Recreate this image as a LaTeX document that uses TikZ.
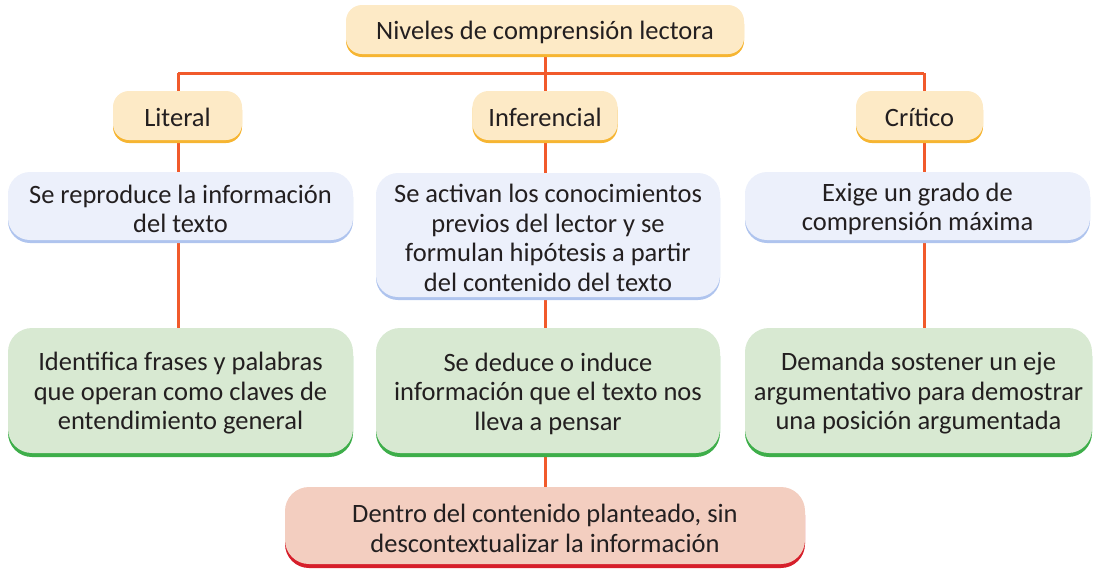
\documentclass[tikz,border=0pt]{standalone}
\usepackage{fontspec}
\setmainfont{Carlito}
\usetikzlibrary{shadows,backgrounds}
\definecolor{lineC}{HTML}{F15A2B}
\definecolor{txt}{HTML}{231F20}
\definecolor{topF}{HTML}{FDEAC6}
\definecolor{topS}{HTML}{F6B532}
\definecolor{bluF}{HTML}{ECF0FB}
\definecolor{bluS}{HTML}{AFC4EE}
\definecolor{grnF}{HTML}{D8E9D2}
\definecolor{grnS}{HTML}{3EAE4A}
\definecolor{redF}{HTML}{F3CEC0}
\definecolor{redS}{HTML}{D61F2B}
\tikzset{
  base/.style={align=center, text=txt, font=\fontsize{26.5}{29.5}\selectfont, inner sep=0pt},
  lbl/.style={base, rounded corners=16pt, fill=topF, general shadow={fill=topS, shadow yshift=-3pt}},
  blu/.style={base, rounded corners=22pt, fill=bluF, general shadow={fill=bluS, shadow yshift=-3pt}},
  grn/.style={base, rounded corners=24pt, fill=grnF, general shadow={fill=grnS, shadow yshift=-4pt}},
  rdb/.style={base, rounded corners=24pt, fill=redF, general shadow={fill=redS, shadow yshift=-4pt}},
  conn/.style={draw=lineC, line width=3pt},
  tx/.style={base}
}
\begin{document}
\begin{tikzpicture}[x=1pt,y=-1pt]
\useasboundingbox (0,0) rectangle (1094,571);
\node[lbl, minimum width=398pt, minimum height=49pt] (top) at (545,29.5) {};
\node[lbl, minimum width=129pt, minimum height=49pt] (lit) at (177.5,115.5) {};
\node[lbl, minimum width=145pt, minimum height=49pt] (inf) at (545,115.5) {};
\node[lbl, minimum width=127pt, minimum height=49pt] (cri) at (919.5,115.5) {};
\node[blu, minimum width=345pt, minimum height=68pt] (b1) at (180.5,206) {};
\node[blu, minimum width=344pt, minimum height=124pt] (b2) at (548,235) {};
\node[blu, minimum width=345pt, minimum height=68pt] (b3) at (917.5,206) {};
\node[grn, minimum width=345pt, minimum height=125pt] (g1) at (180.5,390.5) {};
\node[grn, minimum width=344pt, minimum height=125pt] (g2) at (548,390.5) {};
\node[grn, minimum width=347pt, minimum height=125pt] (g3) at (918.5,390.5) {};
\node[rdb, minimum width=520pt, minimum height=77pt] (red) at (545,525.5) {};
\node[tx] (ttop) at ([yshift=-3pt]top.center) {Niveles de comprensión lectora};
\node[tx] (tlit) at ([yshift=-2pt]lit.center) {Literal};
\node[tx] (tinf) at ([yshift=-2pt]inf.center) {Inferencial};
\node[tx] (tcri) at ([yshift=-2pt]cri.center) {Crítico};
\node[tx] (tb1) at ([yshift=-3pt]b1.center) {Se reproduce la información\\del texto};
\node[tx] (tb2) at ([yshift=-3pt]b2.center) {Se activan los conocimientos\\previos del lector y se\\formulan hipótesis a partir\\del contenido del texto};
\node[tx] (tb3) at ([yshift=-3pt]b3.center) {Exige un grado de\\comprensión máxima};
\node[tx] (tg1) at ([yshift=-3pt]g1.center) {Identifica frases y palabras\\que operan como claves de\\entendimiento general};
\node[tx] (tg2) at ([yshift=-3pt]g2.center) {Se deduce o induce\\información que el texto nos\\lleva a pensar};
\node[tx] (tg3) at ([yshift=-3pt]g3.center) {Demanda sostener un eje\\argumentativo para demostrar\\una posición argumentada};
\node[tx] (tred) at ([yshift=-3pt]red.center) {Dentro del contenido planteado, sin\\descontextualizar la información};
\coordinate (hl) at (178,73);
\coordinate (hr) at (924,73);
\begin{scope}[on background layer]
\draw[conn] (hl) -- (hr);
\draw[conn] (top) -- (inf);
\draw[conn] (hl) -- (hl |- g1.center);
\draw[conn] (inf) -- (red);
\draw[conn] (hr) -- (hr |- g3.center);
\end{scope}
\end{tikzpicture}
\end{document}
